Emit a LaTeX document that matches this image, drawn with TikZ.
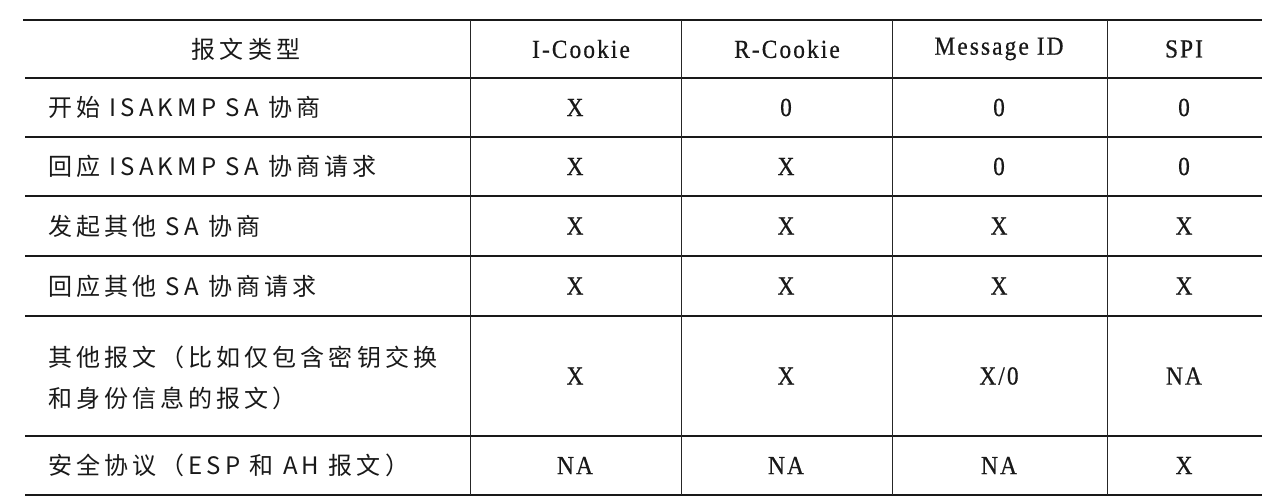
\documentclass[tikz,border=0pt]{standalone}
\usepackage{fontspec}
\newfontfamily\cjk[LetterSpace=17]{Noto Sans CJK SC}
\newfontfamily\lat[FakeStretch=0.9,LetterSpace=8,FakeBold=0.5]{Liberation Serif}
\begin{document}
\begin{tikzpicture}[x=1pt,y=-1pt,
  ink/.style={black!90},
  lbl/.style={ink,font=\cjk\fontsize{24}{41}\selectfont,anchor=west,align=left,inner sep=0pt},
  hlbl/.style={ink,font=\cjk\fontsize{24}{41}\selectfont,anchor=center,inner sep=0pt},
  val/.style={ink,font=\lat\fontsize{26}{28}\selectfont,anchor=center,inner sep=0pt},
  rule/.style={line width=2.6pt,black!90},
  hline/.style={line width=1.5pt,black!90},
  vline/.style={line width=1pt,black!85}]
\useasboundingbox (0,0) rectangle (1280,500);
\fill[white] (0,0) rectangle (1280,500);
% grid
\draw[rule] (23,20) -- (1262,20);
\draw[rule] (25,495) -- (1262,495);
\foreach \y in {78,137,196,256,316,436} \draw[hline] (25,\y) -- (1262,\y);
\foreach \x in {470,681,892,1107} \draw[vline] (\x,20) -- (\x,495);
% header
\node[hlbl] (h0) at (246,49) {报文类型};
\node[val] (h1) at (581,49) {I-Cookie};
\node[val] (h2) at (787,49) {R-Cookie};
\node[val] (h3) at (999,49) {Message ID};
\node[val] (h4) at (1184,49) {SPI};
% row 1
\node[lbl] (a0) at (48,107.5) {开始 ISAKMP SA 协商};
\node[val] (a1) at (575,107.5) {X};
\node[val] (a2) at (786,107.5) {0};
\node[val] (a3) at (999,107.5) {0};
\node[val] (a4) at (1184,107.5) {0};
% row 2
\node[lbl] (b0) at (48,166.5) {回应 ISAKMP SA 协商请求};
\node[val] (b1) at (575,166.5) {X};
\node[val] (b2) at (786,166.5) {X};
\node[val] (b3) at (999,166.5) {0};
\node[val] (b4) at (1184,166.5) {0};
% row 3
\node[lbl] (c0) at (48,226) {发起其他 SA 协商};
\node[val] (c1) at (575,226) {X};
\node[val] (c2) at (786,226) {X};
\node[val] (c3) at (999,226) {X};
\node[val] (c4) at (1184,226) {X};
% row 4
\node[lbl] (d0) at (48,286) {回应其他 SA 协商请求};
\node[val] (d1) at (575,286) {X};
\node[val] (d2) at (786,286) {X};
\node[val] (d3) at (999,286) {X};
\node[val] (d4) at (1184,286) {X};
% row 5
\node[lbl] (e0) at (48,378) {其他报文（比如仅包含密钥交换\\和身份信息的报文）};
\node[val] (e1) at (575,376) {X};
\node[val] (e2) at (786,376) {X};
\node[val] (e3) at (999,376) {X/0};
\node[val] (e4) at (1184,376) {NA};
% row 6
\node[lbl] (f0) at (48,465.5) {安全协议（ESP 和 AH 报文）};
\node[val] (f1) at (575,465.5) {NA};
\node[val] (f2) at (786,465.5) {NA};
\node[val] (f3) at (999,465.5) {NA};
\node[val] (f4) at (1184,465.5) {X};
\end{tikzpicture}
\end{document}
